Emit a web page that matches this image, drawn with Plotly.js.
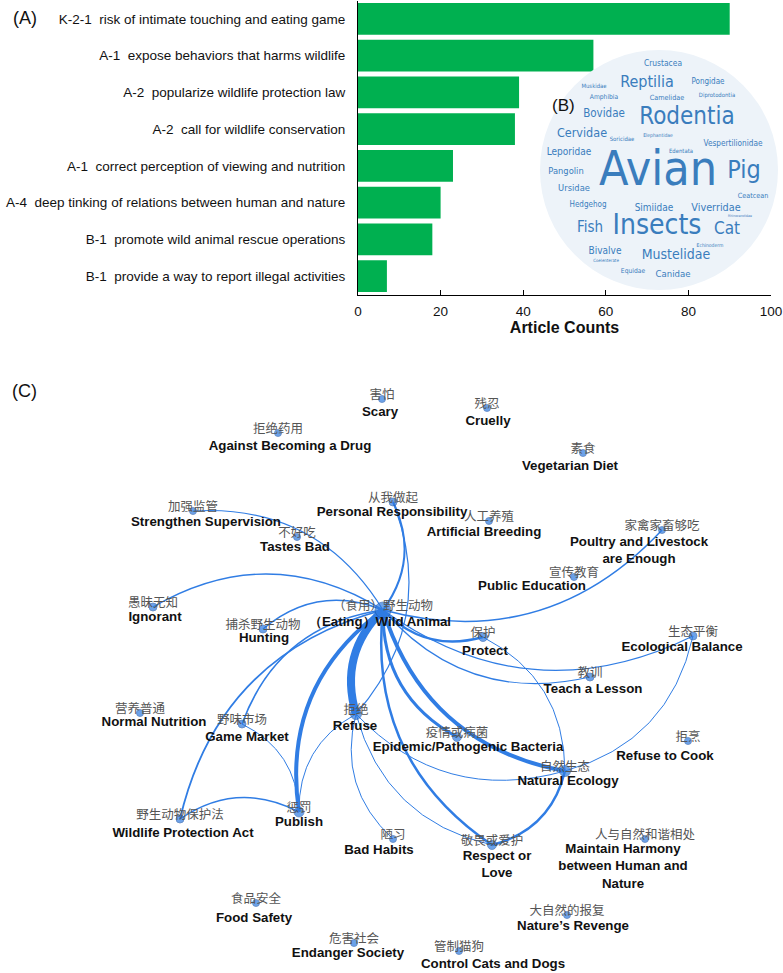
<!DOCTYPE html>
<html>
<head>
<meta charset="utf-8">
<script src="https://cdn.plot.ly/plotly-3.0.1.min.js"></script>
<style>
  body { margin: 0; background: #fff; }
  #chart { width: 783px; height: 973px; }
</style>
</head>
<body>
<div id="chart"></div>
<script>
// ---- (A) article counts per theme ----
const NB = '\u00a0\u00a0';
const themes = [
  'K-2-1' + NB + 'risk of intimate touching and eating game',
  'A-1' + NB + 'expose behaviors that harms wildlife',
  'A-2' + NB + 'popularize wildlife protection law',
  'A-2' + NB + 'call for wildlife conservation',
  'A-1' + NB + 'correct perception of viewing and nutrition',
  'A-4' + NB + 'deep tinking of relations between human and nature',
  'B-1' + NB + 'promote wild animal rescue operations',
  'B-1' + NB + 'provide a way to report illegal activities'
];
const counts = [90, 57, 39, 38, 23, 20, 18, 7];

// ---- (B) word cloud of animal groups ----
const cloudWords = ['Avian', 'Insects', 'Rodentia', 'Pig', 'Cat', 'Reptilia', 'Fish', 'Mustelidae',
  'Cervidae', 'Bovidae', 'Viverridae', 'Leporidae', 'Pangolin', 'Ursidae', 'Simiidae', 'Canidae',
  'Bivalve', 'Crustacea', 'Vespertilionidae', 'Hedgehog', 'Pongidae', 'Ceatcean', 'Camelidae',
  'Amphibia', 'Equidae', 'Diprotodontia', 'Muskidae', 'Soricidae', 'Edentata', 'Elephantidae',
  'Echinoderm', 'Coelenterate', 'Rhinocerotidae'];
const cloudWeight = [48, 28, 24, 25, 17, 16, 15, 14, 12.5, 11.5, 10.8, 10, 9.3, 9.3, 10, 9.5,
  10, 8.4, 8.2, 8, 8, 7.2, 7.2, 6.7, 6.7, 5.9, 5.9, 5.9, 5.9, 5, 5, 4.4, 3.5];
// word placement inside the cloud (page pixels)
const cloudX = [658, 657, 687, 744, 727, 647, 590, 676, 582, 604, 716, 569, 566, 574, 654, 673,
  605, 663, 733, 588, 708, 753, 667, 604, 633, 717, 594, 622, 681, 658, 710, 606, 740];
const cloudY = [173, 227, 118, 172, 230, 83, 228, 255, 134, 114, 208, 152, 172, 189, 208, 275,
  251, 64, 144, 205, 82, 196, 98, 97, 271, 96, 87, 140, 152, 136, 246, 261, 216];

// ---- (C) co-occurrence network ----
const nodeEn = ['（Eating）Wild Animal', 'Scary', 'Cruelly', 'Against Becoming a Drug', 'Vegetarian Diet',
  'Personal Responsibility', 'Strengthen Supervision', 'Artificial Breeding', 'Tastes Bad',
  'Poultry and Livestock<br>are Enough', 'Public Education', 'Ignorant', 'Hunting', 'Protect',
  'Ecological Balance', 'Teach a Lesson', 'Normal Nutrition', 'Game Market', 'Refuse',
  'Epidemic/Pathogenic Bacteria', 'Natural Ecology', 'Refuse to Cook', 'Publish',
  'Wildlife Protection Act', 'Bad Habits', 'Respect or<br>Love',
  'Maintain Harmony<br>between Human and<br>Nature', 'Food Safety', 'Nature’s Revenge',
  'Endanger Society', 'Control Cats and Dogs'];
const nodeZh = ['（食用）野生动物', '害怕', '残忍', '拒绝药用', '素食', '从我做起', '加强监管', '人工养殖',
  '不好吃', '家禽家畜够吃', '宣传教育', '愚昧无知', '捕杀野生动物', '保护', '生态平衡', '教训',
  '营养普通', '野味市场', '拒绝', '疫情或病菌', '自然生态', '拒烹', '惩罚', '野生动物保护法', '陋习',
  '敬畏或爱护', '人与自然和谐相处', '食品安全', '大自然的报复', '危害社会', '管制猫狗'];
const nodeX = [383, 382, 487, 278, 583, 393, 193, 489, 297, 662, 574, 153, 263, 483, 693, 590,
  140, 242, 356, 457, 565, 688, 299, 180, 393, 492, 645, 256, 567, 354, 459];
const nodeY = [610, 399, 408, 433, 453, 502, 511, 521, 537, 530, 577, 607, 629, 637, 636, 677,
  713, 724, 714, 737, 771, 741, 812, 819, 839, 845, 839, 903, 915, 943, 951];
const nodeWeight = [16, 7, 7, 7, 7, 8, 7, 7, 7, 7, 7, 8, 8, 9, 8, 8,
  7, 8, 11, 9, 11, 7, 10, 8, 7, 9, 7, 7, 7, 7, 7];
const labelX = [380, 380, 488, 290, 570, 392, 206, 484, 295, 639, 532, 155, 264, 485, 682, 593,
  154, 247, 355, 468, 568, 665, 299, 183, 379, 497, 623, 254, 573, 348, 493];
const labelY = [623, 413, 422, 447, 467, 513, 523, 533, 548, 551, 587, 618, 639, 652, 648, 690,
  723, 738, 727, 748, 782, 757, 823, 834, 851, 865, 867, 919, 927, 954, 965];

// source, target, weight
const edges = [
  [0, 11, 1.3], [0, 6, 1.2], [0, 5, 2], [18, 5, 1.2], [0, 12, 1.5], [0, 17, 1.6],
  [0, 23, 1.8], [0, 22, 4], [0, 18, 8], [0, 19, 3], [0, 20, 4], [0, 13, 2.5],
  [0, 15, 1.2], [0, 14, 1.2], [0, 9, 1.5], [0, 25, 2.5], [18, 22, 1], [18, 24, 1],
  [18, 20, 1], [18, 25, 1], [22, 17, 1], [22, 23, 1.5], [20, 13, 1], [20, 14, 1],
  [25, 20, 2.5]
];

const EDGE_COLOR = 'rgb(48,125,228)';
const shapes = [{
  type: 'circle', xref: 'x2', yref: 'y2', x0: 540, x1: 778, y0: 50, y1: 290,
  fillcolor: '#edf3f9', line: { width: 0 }, layer: 'below'
}];
edges.forEach(([s, t, w]) => {
  const x0 = nodeX[s], y0 = nodeY[s], x1 = nodeX[t], y1 = nodeY[t];
  const dx = x1 - x0, dy = y1 - y0;
  // clockwise bend, like the original layout tool
  const cx = (x0 + x1) / 2 - 0.3 * dy, cy = (y0 + y1) / 2 + 0.3 * dx;
  shapes.push({
    type: 'path', xref: 'x2', yref: 'y2', layer: 'below',
    path: `M ${x0},${y0} Q ${cx},${cy} ${x1},${y1}`,
    line: { color: EDGE_COLOR, width: w }
  });
});

const barTrace = {
  type: 'bar', orientation: 'h', x: counts, y: themes,
  marker: { color: '#00b050' }, width: 0.86,
  xaxis: 'x', yaxis: 'y', hoverinfo: 'x+y'
};

const cloudTrace = {
  type: 'scatter', mode: 'text', x: cloudX, y: cloudY, text: cloudWords,
  textposition: 'middle center',
  textfont: { size: cloudWeight, color: '#3a7dbd',
    family: '"Liberation Sans Narrow", "DejaVu Sans Condensed", "Roboto Condensed", sans-serif' },
  xaxis: 'x2', yaxis: 'y2', hoverinfo: 'skip', cliponaxis: false
};

const nodeTrace = {
  type: 'scatter', mode: 'markers', x: nodeX, y: nodeY,
  marker: { size: nodeWeight, color: '#2f7be0', line: { color: '#1f57a8', width: 0.8 } },
  xaxis: 'x2', yaxis: 'y2', hoverinfo: 'text', hovertext: nodeEn, cliponaxis: false
};

const zhTrace = {
  type: 'scatter', mode: 'text', x: nodeX, y: nodeY.map(v => v - 3), text: nodeZh,
  textposition: 'middle center',
  textfont: { size: 12.5, color: '#555', family: '"Noto Sans CJK SC", sans-serif' },
  xaxis: 'x2', yaxis: 'y2', hoverinfo: 'skip', cliponaxis: false
};

const enTrace = {
  type: 'scatter', mode: 'text', x: labelX, y: labelY,
  text: nodeEn.map(s => '<b>' + s.replace(/<br>/g, '</b><br><b>') + '</b>'),
  textposition: 'middle center',
  textfont: { size: 13.3, color: '#111', family: '"Liberation Sans", Arial, sans-serif' },
  xaxis: 'x2', yaxis: 'y2', hoverinfo: 'skip', cliponaxis: false
};

const layout = {
  width: 783, height: 973,
  margin: { l: 0, r: 0, t: 0, b: 0 },
  paper_bgcolor: '#fff', plot_bgcolor: 'rgba(0,0,0,0)',
  showlegend: false,
  font: { family: '"Liberation Sans", Arial, sans-serif', color: '#111', size: 13 },
  xaxis: {
    domain: [358 / 783, 771 / 783], range: [0, 100], anchor: 'y',
    tickvals: [0, 20, 40, 60, 80, 100], ticks: 'inside', ticklen: 5, tickcolor: '#000',
    showline: true, linecolor: '#000', linewidth: 1, showgrid: false, zeroline: false,
    tickfont: { size: 13.5, color: '#111' }, ticklabelstandoff: 4,
    title: { text: '<b>Article Counts</b>', font: { size: 16, color: '#111' }, standoff: 3 }
  },
  yaxis: {
    domain: [1 - 294.5 / 973, 1 - 0.5 / 973], anchor: 'x', type: 'category',
    autorange: 'reversed', showline: true, linecolor: '#000', linewidth: 1,
    ticks: '', showgrid: false, zeroline: false,
    tickfont: { size: 13.5, color: '#111' }, ticklabelstandoff: 9
  },
  xaxis2: { domain: [0, 1], range: [0, 783], visible: false, anchor: 'y2', fixedrange: true },
  yaxis2: { domain: [0, 1], range: [973, 0], visible: false, anchor: 'x2', fixedrange: true },
  shapes: shapes,
  annotations: [
    { text: '(A)', xref: 'paper', yref: 'paper', x: 25 / 783, y: 1 - 18 / 973, showarrow: false,
      xanchor: 'center', yanchor: 'middle', font: { size: 18, color: '#111' } },
    { text: '(B)', xref: 'paper', yref: 'paper', x: 563 / 783, y: 1 - 105 / 973, showarrow: false,
      xanchor: 'center', yanchor: 'middle', font: { size: 17, color: '#111' } },
    { text: '(C)', xref: 'paper', yref: 'paper', x: 24 / 783, y: 1 - 391 / 973, showarrow: false,
      xanchor: 'center', yanchor: 'middle', font: { size: 18, color: '#111' } }
  ]
};

Plotly.newPlot('chart', [barTrace, cloudTrace, nodeTrace, zhTrace, enTrace], layout,
  { displayModeBar: false, staticPlot: true });
</script>
</body>
</html>
